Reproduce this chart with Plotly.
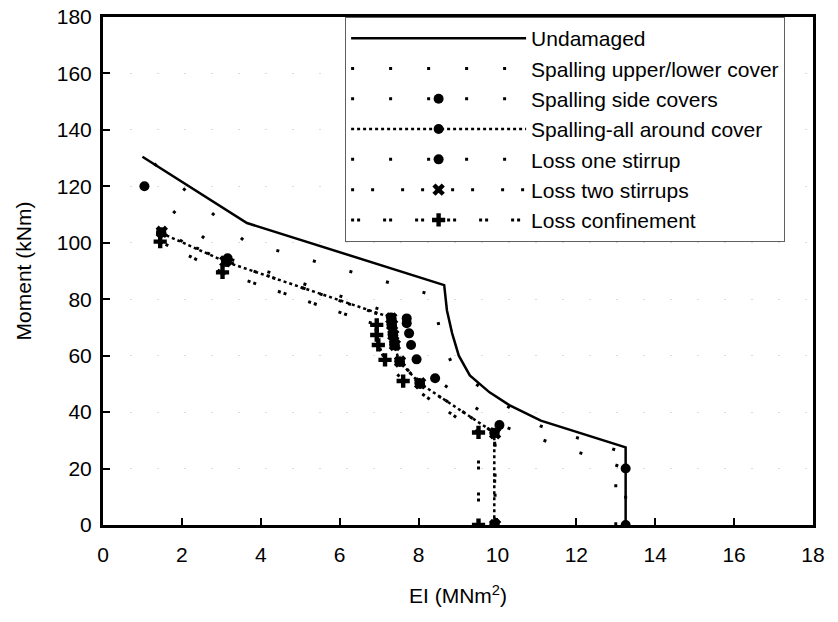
import plotly.graph_objects as go

# ---- data (EI in MNm^2, Moment in kNm) ----
ei_undamaged = [1.0, 3.65, 8.65, 8.72, 8.85, 9.02, 9.3, 9.8, 10.3, 11.1, 13.25, 13.25]
m_undamaged = [130.5, 107, 85, 76, 68, 60, 53, 47, 42.5, 37, 27.5, 0]

ei_upper_lower = [1.3, 3.6, 8.35, 8.42, 8.5, 8.6, 8.85, 9.2, 9.6, 10.2, 11.1, 12.4, 13.0, 13.0]
m_upper_lower = [128, 100.5, 81.5, 77, 72, 65, 57, 52.5, 48.5, 42.5, 35, 29.3, 26.6, 0]

ei_side = [1.05, 3.16, 7.70, 7.70, 7.76, 7.81, 7.95, 8.42, 10.05, 13.25, 13.25]
m_side = [120, 94.5, 73.2, 71.5, 67.9, 63.8, 58.7, 52, 35.4, 20, 0]

ei_all_around = [1.47, 3.12, 7.30, 7.31, 7.34, 7.38, 7.51, 8.02, 9.92, 9.92]
m_all_around = [103.5, 93.2, 73.5, 71, 67.5, 64, 58, 50.3, 32.7, 0]

ei_one_stirrup = [1.48, 3.14, 7.32, 7.33, 7.36, 7.40, 7.53, 8.04, 9.93, 9.93]
m_one_stirrup = [103.7, 93.4, 73.0, 70.6, 67.2, 63.6, 57.8, 50.0, 32.6, 0]

ei_two_stirrups = [1.49, 3.1, 7.31, 7.33, 7.36, 7.40, 7.53, 8.04, 9.94, 9.94]
m_two_stirrups = [103.9, 93.4, 73.2, 70.9, 67.3, 63.8, 57.9, 50.2, 32.5, 0]

ei_confinement = [1.45, 3.03, 6.94, 6.94, 6.98, 7.15, 7.61, 9.52, 9.52]
m_confinement = [100.4, 89.5, 70.9, 67.3, 63.8, 58.5, 51, 32.8, 0]

x_ticks = [0, 2, 4, 6, 8, 10, 12, 14, 16, 18]
y_ticks = [0, 20, 40, 60, 80, 100, 120, 140, 160, 180]

FONT = "Liberation Sans, Arial, sans-serif"
BLACK = "#000000"

fig = go.Figure()

fig.add_trace(go.Scatter(x=ei_undamaged, y=m_undamaged, name="Undamaged", mode="lines",
                         line=dict(color=BLACK, width=2.5)))
fig.add_trace(go.Scatter(x=ei_upper_lower, y=m_upper_lower, name="Spalling upper/lower cover",
                         mode="lines", line=dict(color=BLACK, width=3, dash="3px,35px")))
fig.add_trace(go.Scatter(x=ei_side, y=m_side, name="Spalling side covers", mode="lines+markers",
                         line=dict(color=BLACK, width=3, dash="3px,35px"),
                         marker=dict(symbol="circle", size=10, color=BLACK)))
fig.add_trace(go.Scatter(x=ei_all_around, y=m_all_around, name="Spalling-all around cover",
                         mode="lines+markers", line=dict(color=BLACK, width=2.5, dash="3px,3px"),
                         marker=dict(symbol="circle", size=10, color=BLACK)))
fig.add_trace(go.Scatter(x=ei_one_stirrup, y=m_one_stirrup, name="Loss one stirrup",
                         mode="lines+markers", line=dict(color=BLACK, width=3, dash="3px,35px"),
                         marker=dict(symbol="circle", size=10, color=BLACK)))
fig.add_trace(go.Scatter(x=ei_two_stirrups, y=m_two_stirrups, name="Loss two stirrups",
                         mode="lines+markers", line=dict(color=BLACK, width=3, dash="3px,17px,3px,27px"),
                         marker=dict(symbol="x", size=11, color=BLACK)))
fig.add_trace(go.Scatter(x=ei_confinement, y=m_confinement, name="Loss confinement",
                         mode="lines+markers", line=dict(color=BLACK, width=3, dash="3px,3px,3px,23px"),
                         marker=dict(symbol="cross", size=11, color=BLACK)))

axis_common = dict(showline=True, linecolor=BLACK, linewidth=3, mirror=True,
                   ticks="inside", ticklen=7, tickwidth=1.5, tickcolor=BLACK,
                   zeroline=False, automargin=False,
                   tickfont=dict(family=FONT, size=21, color=BLACK))

fig.update_xaxes(range=[0, 18], tickvals=x_ticks, showgrid=False, ticklabelstandoff=9,
                 title=dict(text="EI (MNm<sup>2</sup>)", font=dict(family=FONT, size=21, color=BLACK), standoff=24),
                 **axis_common)
fig.update_yaxes(range=[0, 180], tickvals=y_ticks, showgrid=True, gridcolor="#dcdcdc",
                 gridwidth=1, griddash="2px,25px", ticklabelstandoff=4,
                 title=dict(text="Moment (kNm)", font=dict(family=FONT, size=21, color=BLACK), standoff=20),
                 **axis_common)

fig.update_layout(
    width=838, height=622,
    margin=dict(l=103, r=25, t=17, b=97),
    paper_bgcolor="white", plot_bgcolor="white",
    font=dict(family=FONT, size=21, color=BLACK),
    showlegend=True,
    legend=dict(x=0.341, y=1.0, xanchor="left", yanchor="top",
                bgcolor="white", bordercolor="#606060", borderwidth=1,
                font=dict(family=FONT, size=21, color=BLACK),
                itemwidth=175, tracegroupgap=0),
)

fig.write_html("out.html")
